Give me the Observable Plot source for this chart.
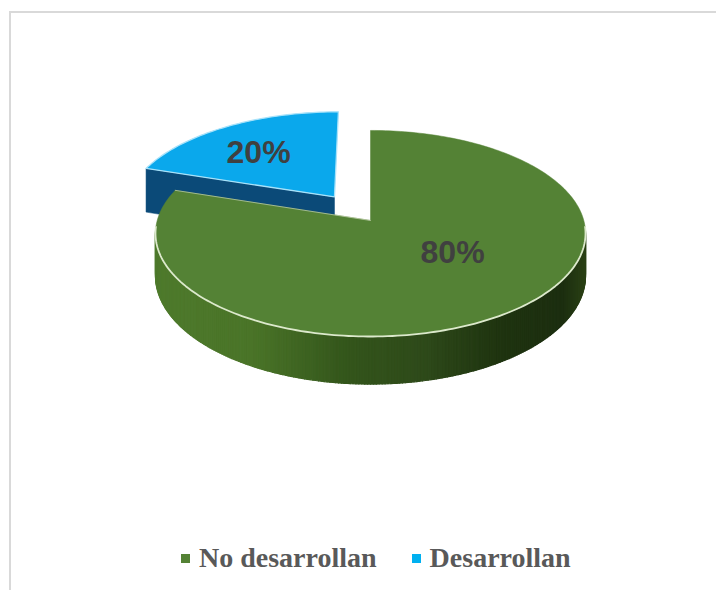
<!DOCTYPE html>
<html>
<head>
<meta charset="utf-8">
<script src="https://cdn.jsdelivr.net/npm/d3@7"></script>
<script src="https://cdn.jsdelivr.net/npm/@observablehq/plot@0.6"></script>
<style>
  html, body { margin: 0; padding: 0; background: #fff; }
  body { position: relative; width: 716px; height: 590px; overflow: hidden; }
  .frame { position: absolute; left: 9px; top: 11px; right: 0; bottom: 0;
           border-top: 2px solid #d9d9d9; border-left: 2px solid #d9d9d9; }
  #chart { position: absolute; left: 0; top: 0; }
  .legend { position: absolute; left: 181px; top: 540px; height: 36px; display: flex; align-items: center;
            font: bold 28px "Liberation Serif", serif; color: #595959; white-space: nowrap; }
  .legend i { display: inline-block; width: 9px; height: 9px; margin-right: 9px; }
  .legend span { display: inline-flex; align-items: center; margin-right: 35px; }
</style>
</head>
<body>
<div class="frame"></div>
<div id="chart"></div>
<div class="legend" id="legend"></div>
<script>
const categories = ["No desarrollan", "Desarrollan"];
const values = [80, 20];
const labels = ["80%", "20%"];

// Style and view settings (not data)
const topFill = ["#548235", "#0AA8EC"];
const legendFill = ["#548235", "#00B0F0"];
const sideFill = [null, "#0B4A78"];
const rimStroke = ["#DCE9CC", "#A8E2FA"];
const explode = [0, 0.296];
const labelR = [0.5, 0.6];
const labelDx = [16, -9];
const labelDy = [-11, 0];
const tilt = 0.126, depth = [0.41, 0.46];

const shade = d3.scaleLinear()
  .domain([-1, -0.55, -0.1, 0.25, 0.6, 0.9, 1])
  .range(["#4E7A2C", "#4A7428", "#33551B", "#2E4A1A", "#1F3410", "#1C2E10", "#2A4015"])
  .clamp(true);

const arcs = d3.pie().sort(null)(values);

// Ground-plane point in the pie's own units, projected in perspective
function project(u, v, z = 0) {
  const w = 1 + tilt * v;
  return { x: u / w, y: (v - z) / w };
}
function slicePoint(i, angle, r) {
  const mid = (arcs[i].startAngle + arcs[i].endAngle) / 2;
  return [
    explode[i] * Math.sin(mid) + r * Math.sin(angle),
    explode[i] * Math.cos(mid) + r * Math.cos(angle)
  ];
}
function arcAngles(a0, a1, step = 0.02) {
  const n = Math.max(1, Math.ceil((a1 - a0) / step));
  return d3.range(n + 1).map(k => a0 + (a1 - a0) * k / n);
}
function topFace(i) {
  const a = arcs[i];
  const c = slicePoint(i, 0, 0);
  const pts = [c, ...arcAngles(a.startAngle, a.endAngle).map(t => slicePoint(i, t, 1)), c];
  return pts.map(([u, v]) => project(u, v));
}

// Green wall: narrow strips along the visible rim only
const greenWall = [];
const wallAngles = arcAngles(Math.PI * 0.52, Math.PI * 1.48, 0.012);
wallAngles.slice(0, -1).forEach((t, k) => {
  const [u0, v0] = slicePoint(0, t, 1);
  const [u1, v1] = slicePoint(0, wallAngles[k + 1], 1);
  const fill = shade(project(u0, v0).x);
  [project(u0, v0), project(u1, v1), project(u1, v1, depth[0]), project(u0, v0, depth[0]), project(u0, v0)]
    .forEach(p => greenWall.push({ ...p, id: k, fill }));
});

// Blue wall: the straight cut face toward the viewer
const bc = slicePoint(1, 0, 0);
const bt = slicePoint(1, arcs[1].startAngle, 1);
const blueWall = [
  project(bc[0], bc[1]), project(bt[0], bt[1]),
  project(bt[0], bt[1], depth[1]), project(bc[0], bc[1], depth[1]), project(bc[0], bc[1])
];

// Light rim on the green front edge and cut
const greenRim = arcAngles(Math.PI * 0.52, Math.PI * 1.48).map(t => {
  const [u, v] = slicePoint(0, t, 1);
  return project(u, v);
});
const gEnd = slicePoint(0, arcs[0].endAngle, 1);
const greenCut = [project(gEnd[0], gEnd[1]), project(0, 0)];

const labelData = labels.map((text, i) => {
  const mid = (arcs[i].startAngle + arcs[i].endAngle) / 2;
  const [u, v] = slicePoint(i, mid, labelR[i]);
  return { ...project(u, v), text, i };
});

const labelMark = i => Plot.text([labelData[i]], {
  x: "x", y: "y", text: "text",
  dx: labelDx[i], dy: labelDy[i],
  fontFamily: "Liberation Sans, Arial, sans-serif",
  fontWeight: "bold", fontSize: 32, fill: "#404040"
});

const plot = Plot.plot({
  width: 716,
  height: 530,
  margin: 0,
  style: { background: "transparent" },
  x: { domain: [-1, 1], range: [156.7, 583.3], axis: null },
  y: { domain: [-1, 1], range: [321.4, 118.6], axis: null },
  color: { type: "identity" },
  marks: [
    Plot.line(blueWall, { x: "x", y: "y", fill: sideFill[1], stroke: sideFill[1], strokeWidth: 0.5 }),
    Plot.line(topFace(1), { x: "x", y: "y", fill: topFill[1], stroke: rimStroke[1], strokeWidth: 1.3 }),
    Plot.line(greenWall, { x: "x", y: "y", z: "id", fill: "fill", stroke: "fill", strokeWidth: 1.2, strokeLinejoin: "round" }),
    Plot.line(topFace(0), { x: "x", y: "y", fill: topFill[0], stroke: topFill[0], strokeWidth: 0.5 }),
    Plot.line(greenRim, { x: "x", y: "y", stroke: rimStroke[0], strokeWidth: 1.8 }),
    Plot.line(greenCut, { x: "x", y: "y", stroke: "#B9CBA4", strokeWidth: 1, strokeOpacity: 0.8 }),
    labelMark(0),
    labelMark(1)
  ]
});
document.getElementById("chart").append(plot);

const lg = document.getElementById("legend");
categories.forEach((c, i) => {
  const s = document.createElement("span");
  const sw = document.createElement("i");
  sw.style.background = legendFill[i];
  s.append(sw, document.createTextNode(c));
  lg.append(s);
});
</script>
</body>
</html>
